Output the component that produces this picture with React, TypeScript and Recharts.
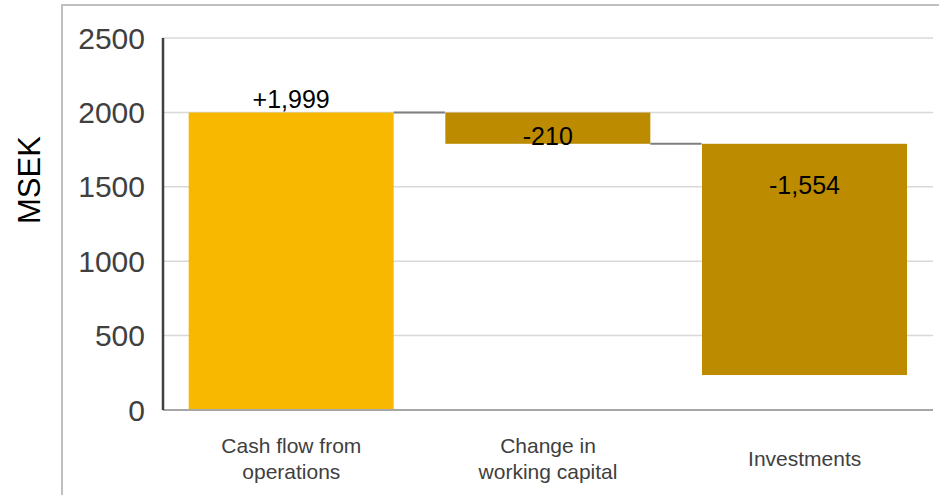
import { BarChart, Bar, XAxis, YAxis, CartesianGrid, Cell, LabelList } from 'recharts';

const categories = ['Cash flow from\noperations', 'Change in\nworking capital', 'Investments'];
const changes = [1999, -210, -1554];
const changeLabels = ['+1,999', '-210', '-1,554'];
const yTicks = [0, 500, 1000, 1500, 2000, 2500];

const UP = '#F9B800';
const DOWN = '#BD8B00';

// running totals -> invisible base + visible step
let running = 0;
const data = categories.map((name, i) => {
  const start = running;
  running += changes[i];
  return {
    name,
    base: Math.min(start, running),
    value: Math.abs(changes[i]),
    change: changes[i],
    label: changeLabels[i],
    last: i === categories.length - 1,
  };
});

const StepBar = (props: any) => {
  const { x, y, width, height, fill, payload } = props;
  const level = payload.change > 0 ? y : y + height;
  const gap = width * 0.25;
  return (
    <g>
      <rect x={x} y={y} width={width} height={height} fill={fill} />
      {!payload.last && (
        <line x1={x + width} x2={x + width + gap} y1={level} y2={level} stroke="#7f7f7f" strokeWidth={2} />
      )}
    </g>
  );
};

const StepLabel = (props: any) => {
  const { x, y, width, height, value, index } = props;
  const cx = x + width / 2;
  const up = changes[index] > 0;
  const cy = up ? y - 14 : y + Math.min(41, height * 0.75);
  return (
    <text x={cx} y={cy} textAnchor="middle" dominantBaseline="central" fontSize={25} fill="#000"
      fontFamily="'Liberation Sans', Arial, sans-serif">
      {value}
    </text>
  );
};

const CategoryTick = (props: any) => {
  const { x, payload } = props;
  const lines = String(payload.value).split('\n');
  const lh = 26;
  const top = 458 - ((lines.length - 1) * lh) / 2;
  return (
    <text textAnchor="middle" fontSize={21} fill="#404040" fontFamily="'Liberation Sans', Arial, sans-serif">
      {lines.map((l, i) => (
        <tspan key={i} x={x} y={top + i * lh} dominantBaseline="central">{l}</tspan>
      ))}
    </text>
  );
};

export default function App() {
  return (
    <div style={{ position: 'fixed', left: 0, top: 0, width: 939, height: 495, overflow: 'hidden', background: '#fff' }}>
      <div style={{ position: 'absolute', left: 61, top: 4, width: 900, height: 540, border: '2px solid #bfbfbf' }} />
      <div style={{ position: 'absolute', left: 0, top: 0 }}>
        <BarChart width={939} height={495} data={data} barCategoryGap="10%"
          margin={{ top: 38, right: 6, left: 0, bottom: 0 }}>
          <CartesianGrid vertical={false} stroke="#d9d9d9" strokeWidth={1.5} />
          <XAxis dataKey="name" tickLine={false} axisLine={{ stroke: '#a6a6a6', strokeWidth: 2 }}
            height={85} tick={<CategoryTick />} interval={0} />
          <YAxis width={163} domain={[0, 2500]} ticks={yTicks} tickLine={false} tickMargin={12}
            axisLine={{ stroke: '#404040', strokeWidth: 2.5 }}
            tick={{ fontSize: 30, fill: '#404040', fontFamily: "'Liberation Sans', Arial, sans-serif" }}
            label={{ value: 'MSEK', angle: -90, position: 'insideLeft', dx: 24, fontSize: 31, fill: '#000',
              fontFamily: "'Liberation Sans', Arial, sans-serif" }} />
          <Bar dataKey="base" stackId="w" fill="transparent" isAnimationActive={false} />
          <Bar dataKey="value" stackId="w" shape={<StepBar />} isAnimationActive={false}>
            {data.map((d, i) => (
              <Cell key={i} fill={d.change > 0 ? UP : DOWN} />
            ))}
            <LabelList dataKey="label" content={<StepLabel />} />
          </Bar>
        </BarChart>
      </div>
    </div>
  );
}
